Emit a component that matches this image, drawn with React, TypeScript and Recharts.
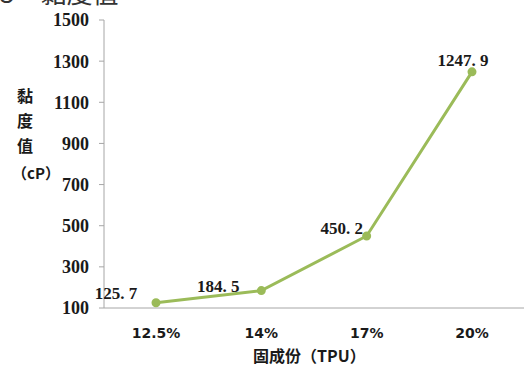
import { LineChart, Line, XAxis, YAxis, LabelList } from "recharts";

const GREEN = "#9bbb59";
const AXIS = "#a6a6a6";
const INK = "#1a1a1a";

const categories = ["12.5%", "14%", "17%", "20%"];
const viscosity = [125.7, 184.5, 450.2, 1247.9];
const yTicks = [100, 300, 500, 700, 900, 1100, 1300, 1500];

// hand-placed label offsets (dx, dy) from each point, like the source
const labelOffsets = [
  [-40, -10],
  [-43, -5],
  [-25, -8],
  [-9, -12],
];

const data = categories.map((c, i) => ({ name: c, value: viscosity[i] }));

/* eslint-disable @typescript-eslint/no-explicit-any */
function ValueLabel(props: any) {
  const { x, y, value, index } = props;
  const [dx, dy] = labelOffsets[index] || [0, -10];
  return (
    <text x={x + dx} y={y + dy} dy="0.35em" textAnchor="middle" fill={INK}
      fontSize={17} fontWeight={700} fontFamily="'Liberation Serif', serif">
      {String(value).replace(".", ". ")}
    </text>
  );
}
/* eslint-enable @typescript-eslint/no-explicit-any */

const cjk = "'Noto Sans CJK SC', sans-serif";

export default function App() {
  return (
    <div style={{ position: "absolute", left: 0, top: 0, width: 524, height: 367, background: "#fff", overflow: "hidden" }}>
      <div style={{ position: "absolute", left: 0, top: -21, fontSize: 26, lineHeight: "26px", fontFamily: cjk, color: "#333", whiteSpace: "nowrap" }}>
        3・黏度值
      </div>
      <LineChart width={524} height={367} data={data} margin={{ top: 20, right: 0, left: 0, bottom: 0 }}>
        <XAxis dataKey="name" height={59} padding={{ left: 52, right: 52 }} axisLine={{ stroke: AXIS }}
          tickLine={false} tickSize={0} tickMargin={20}
          tick={{ fill: INK, fontSize: 14, fontWeight: 700, fontFamily: "'DejaVu Sans', sans-serif" }} />
        <YAxis width={104} domain={[100, 1500]} ticks={yTicks} interval={0} axisLine={{ stroke: AXIS }}
          tickLine={{ stroke: AXIS }} tickSize={5} tickMargin={10}
          tick={{ fill: INK, fontSize: 18, fontWeight: 700, fontFamily: "'Liberation Serif', serif" }} />
        <Line dataKey="value" stroke={GREEN} strokeWidth={3} isAnimationActive={false}
          dot={{ r: 3, fill: GREEN, stroke: GREEN }}>
          <LabelList dataKey="value" content={<ValueLabel />} />
        </Line>
      </LineChart>
      <div style={{ position: "absolute", left: 10, top: 83, width: 30, fontFamily: cjk, fontSize: 16, fontWeight: 700, lineHeight: "25px", textAlign: "center", color: INK }}>
        黏<br />度<br />值
      </div>
      <div style={{ position: "absolute", left: 12, top: 163, fontFamily: cjk, fontSize: 15, fontWeight: 700, color: INK, whiteSpace: "nowrap", lineHeight: "20px" }}>
        （cP）
      </div>
      <div style={{ position: "absolute", left: 253, top: 345, fontFamily: cjk, fontSize: 16, fontWeight: 700, color: INK, whiteSpace: "nowrap", lineHeight: "20px" }}>
        固成份（TPU）
      </div>
    </div>
  );
}
